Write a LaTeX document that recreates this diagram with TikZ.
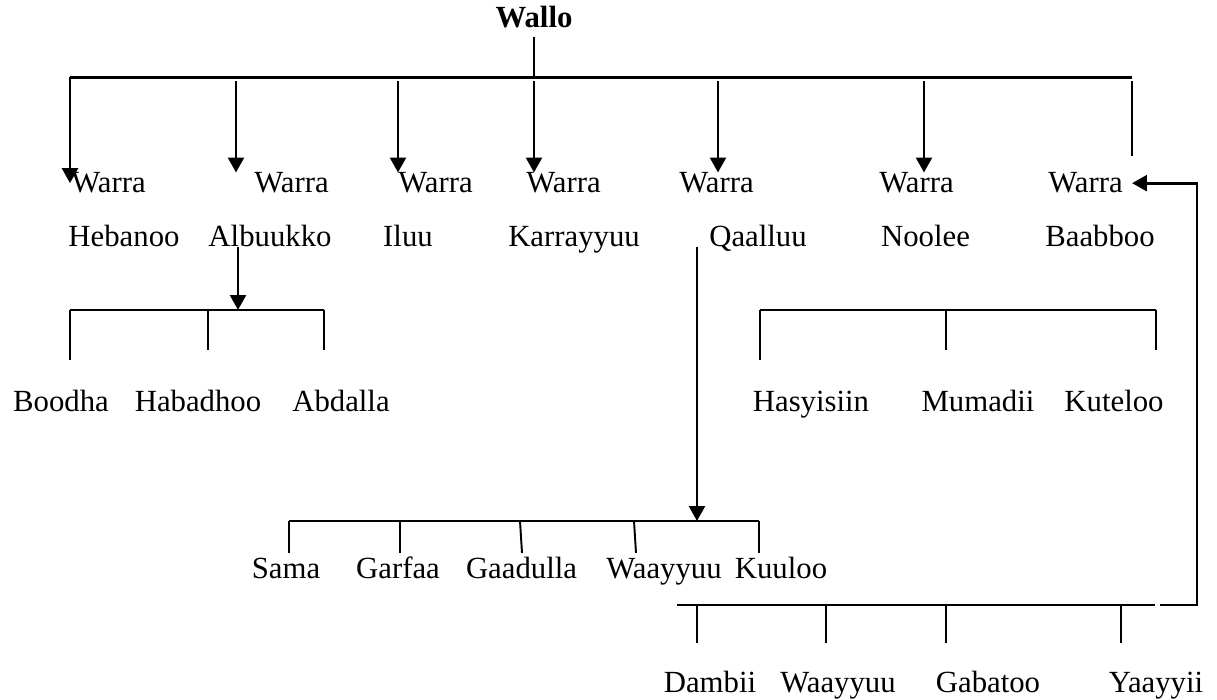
\documentclass[tikz,border=0pt]{standalone}
\usepackage{fontspec}
\setmainfont{Liberation Serif}
\usetikzlibrary{arrows.meta,calc}

\begin{document}
\begin{tikzpicture}[scale=0.2,
		lbl/.style={anchor=base, font=\fontsize{17.5}{20}\selectfont},
		head/.style={lbl, font=\fontsize{17.5}{20}\selectfont\bfseries},
		bar/.style={line width=1.1pt},
		thickbar/.style={line width=1.6pt},
		down/.style={line width=1.6pt, -{Triangle[length=8.5pt,width=9pt]}}]
		\tikzstyle{every node}+=[inner sep=0pt]
		\useasboundingbox (0,0) rectangle (121.7,-70);
		\node [head] (wallo) at (53.4,-2.8) {Wallo};
		\node [lbl] (warra1) at (10.85,-19.3) {Warra};
		\node [lbl] (warra2) at (29.15,-19.3) {Warra};
		\node [lbl] (warra3) at (43.55,-19.3) {Warra};
		\node [lbl] (warra4) at (56.35,-19.3) {Warra};
		\node [lbl] (warra5) at (71.65,-19.3) {Warra};
		\node [lbl] (warra6) at (91.65,-19.3) {Warra};
		\node [lbl] (warra7) at (108.55,-19.3) {Warra};
		\node [lbl] (hebanoo) at (12.4,-24.7) {Hebanoo};
		\node [lbl] (albuukko) at (27,-24.7) {Albuukko};
		\node [lbl] (iluu) at (40.8,-24.7) {Iluu};
		\node [lbl] (karrayyuu) at (57.4,-24.7) {Karrayyuu};
		\node [lbl] (qaalluu) at (75.8,-24.7) {Qaalluu};
		\node [lbl] (noolee) at (92.55,-24.7) {Noolee};
		\node [lbl] (baabboo) at (110,-24.7) {Baabboo};
		\node [lbl] (boodha) at (6.1,-41.2) {Boodha};
		\node [lbl] (habadhoo) at (19.8,-41.2) {Habadhoo};
		\node [lbl] (abdalla) at (34.1,-41.2) {Abdalla};
		\node [lbl] (hasyisiin) at (81.1,-41.2) {Hasyisiin};
		\node [lbl] (mumadii) at (97.8,-41.2) {Mumadii};
		\node [lbl] (kuteloo) at (111.4,-41.2) {Kuteloo};
		\node [lbl] (sama) at (28.6,-57.8) {Sama};
		\node [lbl] (garfaa) at (39.8,-57.8) {Garfaa};
		\node [lbl] (gaadulla) at (52.15,-57.8) {Gaadulla};
		\node [lbl] (waayyuuQ) at (66.4,-57.8) {Waayyuu};
		\node [lbl] (kuuloo) at (78.1,-57.8) {Kuuloo};
		\node [lbl] (dambii) at (71,-69.2) {Dambii};
		\node [lbl] (waayyuuB) at (83.8,-69.2) {Waayyuu};
		\node [lbl] (gabatoo) at (98.8,-69.2) {Gabatoo};
		\node [lbl] (yaayyii) at (115.6,-69.2) {Yaayyii};
		\coordinate (topl) at (7,-7.75);
		\coordinate (topr) at (113.2,-7.75);
		\coordinate (topc) at (53.4,-7.75);
		\coordinate (b1l) at (7,-31);
		\coordinate (b1m) at (23.8,-31);
		\coordinate (b1r) at (32.4,-31);
		\coordinate (b2l) at (76,-31);
		\coordinate (b2r) at (115.6,-31);
		\coordinate (b3l) at (28.9,-52.1);
		\coordinate (b3m) at (69.7,-52.1);
		\coordinate (b3r) at (75.9,-52.1);
		\coordinate (b4l) at (67.7,-60.5);
		\coordinate (b4r) at (115.5,-60.5);
		\coordinate (b4e) at (116,-60.5);
		\coordinate (back) at (119.7,-60.5);
		\draw [black, thickbar] (topl) -- (topr);
		\draw [black, bar] (wallo.south) ++(0,-0.8) -- (topc);
		\draw [black, down] (topl) -- (topl |- warra1.center);
		\foreach \x/\n in {23.6/2, 39.8/3, 53.4/4, 71.8/5, 92.4/6}
			\draw [black, down] (\x,-8.1) -- (\x,0 |- warra\n.north);
		\draw [black, bar] (113.2,-8.1) -- (113.2,-15.6);
		\draw [black, down] (b4e) -- (back) |- ($(warra7.east)+(0.9,0)$);
		\draw [black, down] (albuukko.base -| b1m) -- (b1m);
		\draw [black, bar] (b1l) -- (b1r);
		\foreach \x/\l in {7/5, 20.8/4, 32.4/4}
			\draw [black, bar] (\x,0 |- b1l) -- ++(0,-\l);
		\draw [black, bar] (b2l) -- (b2r);
		\foreach \x/\l in {76/5, 94.6/4, 115.6/4}
			\draw [black, bar] (\x,0 |- b2l) -- ++(0,-\l);
		\draw [black, down] (qaalluu.base -| b3m) -- (b3m);
		\draw [black, bar] (b3l) -- (b3r);
		\foreach \x/\y in {28.9/28.9, 40/40, 52/52.2, 63.4/63.6, 75.9/75.9}
			\draw [black, bar] (\x,0 |- b3l) -- (\y,-55.3);
		\draw [black, thickbar] (b4l) -- (b4r);
		\foreach \x in {69.7, 82.6, 94.6, 112.1}
			\draw [black, bar] (\x,0 |- b4l) -- ++(0,-3.8);
	\end{tikzpicture}
\end{document}
